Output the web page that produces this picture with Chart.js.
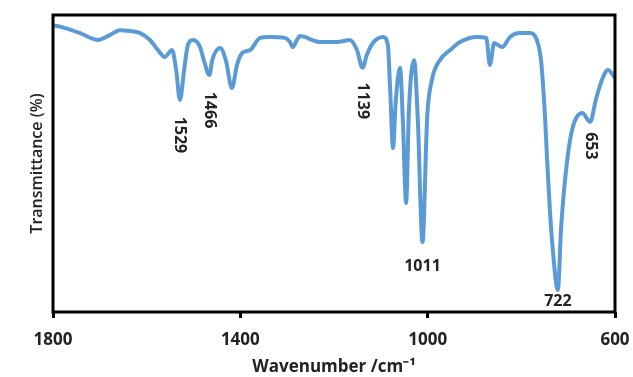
<!DOCTYPE html>
<html>
<head>
<meta charset="utf-8">
<script src="https://cdn.jsdelivr.net/npm/chart.js@4"></script>
<style>
  html, body { margin: 0; padding: 0; background: #fff; }
  #wrap { width: 633px; height: 377px; }
</style>
</head>
<body>
<div id="wrap"><canvas id="ftir"></canvas></div>
<script>
// Spektrumdata
const wavenumbers = [1800, 1774, 1742, 1704, 1678, 1657, 1636, 1614, 1593, 1576, 1561, 1546, 1537, 1529, 1520, 1512,
  1501, 1486, 1478, 1466, 1460, 1443, 1431, 1418, 1407, 1396, 1379, 1358, 1337, 1305, 1294, 1288, 1279, 1273,
  1230, 1194, 1166, 1151, 1139, 1130, 1117, 1095, 1085, 1080, 1074, 1068, 1059, 1053, 1046, 1040, 1029, 1021,
  1011, 1001, 991, 974, 952, 931, 895, 875, 867, 858, 841, 824, 803, 781, 767, 758, 749, 745, 739, 734, 722,
  715, 702, 690, 670, 653, 641, 628, 615, 600];
const transmittance = [96.6, 95.6, 93.9, 91.6, 93.3, 94.9, 94.6, 93.9, 91.6, 88.2, 85.9, 88.2, 81.5, 71.4, 81.5, 89.9,
  91.6, 89.2, 84.8, 79.8, 84.8, 88.9, 84.8, 75.4, 83.2, 87.2, 88.2, 92.3, 92.6, 92.3, 90.9, 89.2, 91.6, 92.9,
  90.9, 90.9, 91.6, 88.2, 82.2, 86.5, 90.6, 92.6, 89.9, 74.7, 55.2, 71.4, 82.2, 64.6, 36.7, 68.0, 84.8, 64.6,
  23.6, 65.7, 78.1, 84.8, 88.2, 90.9, 92.6, 92.3, 83.2, 90.6, 89.2, 92.6, 93.9, 93.9, 91.6, 84.8, 64.6, 51.2, 34.3, 23.2, 7.4,
  28.6, 51.2, 62.3, 67.0, 64.0, 71.4, 78.1, 81.5, 78.8];

// Märkta toppar
const peakLabels = [1529, 1466, 1139, 1011, 722, 653];

// Tick-etiketter på x-axeln
const xTicks = [1800, 1400, 1000, 600];

const points = wavenumbers.map(function (w, i) {
  return { x: w, y: transmittance[i] };
});

// Placering av topp-etiketter (pixelförskjutning, rotation)
const labelStyle = {
  1529: { dy: 35, rot: true },
  1466: { dy: 35, rot: true },
  1139: { dy: 33, rot: true },
  1011: { dy: 25, rot: false },
  722: { dy: 11, rot: false },
  653: { dy: 24, rot: true },
};

const peakPlugin = {
  id: "peaks",
  afterDatasetsDraw(chart) {
    const ctx = chart.ctx;
    const xs = chart.scales.x;
    const ys = chart.scales.y;
    ctx.save();
    ctx.fillStyle = "#222";
    ctx.font = "bold 16px 'Open Sans'";
    ctx.textAlign = "center";
    ctx.textBaseline = "middle";
    peakLabels.forEach(function (p) {
      const i = wavenumbers.indexOf(p);
      const px = xs.getPixelForValue(p);
      const py = ys.getPixelForValue(transmittance[i]) + labelStyle[p].dy;
      ctx.save();
      ctx.translate(px, py);
      if (labelStyle[p].rot) ctx.rotate(Math.PI / 2);
      ctx.fillText(String(p), 0, 0);
      ctx.restore();
    });
    ctx.restore();
  },
};

const framePlugin = {
  id: "frame",
  afterDatasetsDraw(chart) {
    const a = chart.chartArea;
    const ctx = chart.ctx;
    ctx.save();
    ctx.strokeStyle = "#000";
    ctx.lineWidth = 3;
    ctx.strokeRect(a.left, a.top, a.right - a.left, a.bottom - a.top);
    ctx.restore();
  },
};

const ctx1 = document.getElementById("ftir");

new Chart(ctx1, {
  type: "line",
  data: {
    datasets: [
      {
        label: "FTIR",
        data: points,
        borderColor: "rgb(91, 155, 213)",
        borderWidth: 4,
        pointRadius: 0,
        cubicInterpolationMode: "monotone",
        fill: false,
      },
    ],
  },
  options: {
    responsive: true,
    maintainAspectRatio: false,
    animation: false,
    layout: { padding: { top: 15, right: 18, left: 0, bottom: 0 } },
    plugins: {
      legend: { display: false },
      tooltip: { enabled: false },
    },
    scales: {
      x: {
        type: "linear",
        reverse: true,
        min: 600,
        max: 1800,
        afterBuildTicks: function (scale) {
          scale.ticks = xTicks.map(function (v) { return { value: v }; });
        },
        afterFit: function (scale) {
          scale.height = 65;
          scale.paddingLeft = 0;
          scale.paddingRight = 0;
        },
        grid: {
          drawOnChartArea: false,
          color: "#000",
          lineWidth: 3,
          tickLength: 6,
        },
        border: { display: false },
        ticks: {
          color: "#222",
          padding: 12,
          maxRotation: 0,
          callback: function (v) { return String(v); },
          font: { family: "'Open Sans'", size: 17, weight: "bold" },
        },
        title: {
          display: true,
          text: "Wavenumber /cm⁻¹",
          color: "#222",
          padding: { top: 0, bottom: 0 },
          font: { family: "'Open Sans'", size: 17, weight: "bold" },
        },
      },
      y: {
        min: 0,
        max: 100,
        afterFit: function (scale) { scale.width = 53; },
        grid: { display: false },
        border: { display: false },
        ticks: { display: false },
        title: {
          display: true,
          text: "Transmittance (%)",
          color: "#222",
          padding: { top: 28, bottom: 0 },
          font: { family: "'Open Sans'", size: 16, weight: "600" },
        },
      },
    },
  },
  plugins: [peakPlugin, framePlugin],
});
</script>
</body>
</html>
